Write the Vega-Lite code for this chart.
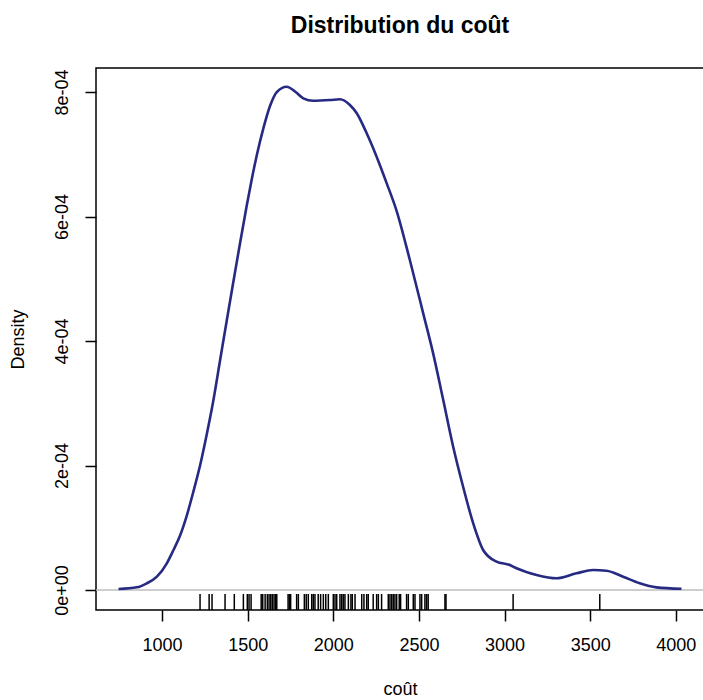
{
  "$schema": "https://vega.github.io/schema/vega-lite/v6.json",
  "autosize": "none",
  "padding": {"left": 96, "top": 68, "right": 0, "bottom": 90},
  "width": 608,
  "height": 542,
  "background": "white",
  "title": {
    "text": "Distribution du coût",
    "font": "Liberation Sans",
    "fontSize": 23,
    "fontWeight": "bold",
    "color": "black",
    "anchor": "middle",
    "frame": "group",
    "baseline": "alphabetic",
    "offset": 12
  },
  "config": {
    "view": {"stroke": "black", "strokeWidth": 1.5},
    "axis": {
      "grid": false,
      "domain": false,
      "labelFont": "Liberation Sans",
      "labelFontSize": 18,
      "labelColor": "black",
      "titleFont": "Liberation Sans",
      "titleFontSize": 18,
      "titleFontWeight": "normal",
      "titleColor": "black",
      "tickColor": "black",
      "tickWidth": 1.5,
      "tickSize": 11
    }
  },
  "datasets": {
    "curve": [
      {"cout": 746, "density": 0.0000016},
      {"cout": 853, "density": 0.0000043},
      {"cout": 911, "density": 0.0000108},
      {"cout": 970, "density": 0.0000214},
      {"cout": 1028, "density": 0.0000429},
      {"cout": 1067, "density": 0.0000643},
      {"cout": 1106, "density": 0.000088},
      {"cout": 1145, "density": 0.00012},
      {"cout": 1183, "density": 0.000158},
      {"cout": 1222, "density": 0.0002},
      {"cout": 1261, "density": 0.00025},
      {"cout": 1300, "density": 0.000305},
      {"cout": 1339, "density": 0.000369},
      {"cout": 1378, "density": 0.000433},
      {"cout": 1417, "density": 0.000496},
      {"cout": 1456, "density": 0.000558},
      {"cout": 1495, "density": 0.000618},
      {"cout": 1524, "density": 0.00066},
      {"cout": 1553, "density": 0.000698},
      {"cout": 1592, "density": 0.000742},
      {"cout": 1631, "density": 0.000778},
      {"cout": 1670, "density": 0.0008},
      {"cout": 1728, "density": 0.0008085},
      {"cout": 1780, "density": 0.0008},
      {"cout": 1825, "density": 0.0007899},
      {"cout": 1883, "density": 0.000786},
      {"cout": 1981, "density": 0.0007871},
      {"cout": 2039, "density": 0.0007883},
      {"cout": 2097, "density": 0.0007791},
      {"cout": 2137, "density": 0.0007658},
      {"cout": 2195, "density": 0.0007337},
      {"cout": 2253, "density": 0.0006961},
      {"cout": 2312, "density": 0.0006533},
      {"cout": 2370, "density": 0.0006088},
      {"cout": 2447, "density": 0.0005301},
      {"cout": 2525, "density": 0.0004445},
      {"cout": 2583, "density": 0.0003802},
      {"cout": 2642, "density": 0.0003052},
      {"cout": 2700, "density": 0.0002302},
      {"cout": 2758, "density": 0.0001659},
      {"cout": 2817, "density": 0.0001071},
      {"cout": 2875, "density": 0.0000643},
      {"cout": 2953, "density": 0.0000455},
      {"cout": 3031, "density": 0.0000402},
      {"cout": 3070, "density": 0.0000349},
      {"cout": 3187, "density": 0.0000241},
      {"cout": 3303, "density": 0.0000188},
      {"cout": 3420, "density": 0.0000268},
      {"cout": 3517, "density": 0.0000321},
      {"cout": 3595, "density": 0.000031},
      {"cout": 3692, "density": 0.0000214},
      {"cout": 3789, "density": 0.0000108},
      {"cout": 3887, "density": 0.0000043},
      {"cout": 4033, "density": 0.000002}
    ],
    "rug": [
      {"cout": 1222}, {"cout": 1275}, {"cout": 1292}, {"cout": 1368}, {"cout": 1422},
      {"cout": 1475}, {"cout": 1498}, {"cout": 1508}, {"cout": 1520}, {"cout": 1579},
      {"cout": 1588}, {"cout": 1602}, {"cout": 1615}, {"cout": 1625}, {"cout": 1635},
      {"cout": 1644}, {"cout": 1654}, {"cout": 1663}, {"cout": 1670}, {"cout": 1736},
      {"cout": 1744}, {"cout": 1751}, {"cout": 1786}, {"cout": 1796}, {"cout": 1831},
      {"cout": 1842}, {"cout": 1854}, {"cout": 1874}, {"cout": 1883}, {"cout": 1893},
      {"cout": 1912}, {"cout": 1926}, {"cout": 1942}, {"cout": 1956}, {"cout": 1971},
      {"cout": 2000}, {"cout": 2010}, {"cout": 2020}, {"cout": 2039}, {"cout": 2049},
      {"cout": 2058}, {"cout": 2068}, {"cout": 2088}, {"cout": 2103}, {"cout": 2111},
      {"cout": 2127}, {"cout": 2166}, {"cout": 2179}, {"cout": 2195}, {"cout": 2204},
      {"cout": 2233}, {"cout": 2253}, {"cout": 2263}, {"cout": 2282}, {"cout": 2321},
      {"cout": 2331}, {"cout": 2341}, {"cout": 2350}, {"cout": 2360}, {"cout": 2370},
      {"cout": 2385}, {"cout": 2393}, {"cout": 2428}, {"cout": 2438}, {"cout": 2467},
      {"cout": 2477}, {"cout": 2506}, {"cout": 2516}, {"cout": 2535}, {"cout": 2545},
      {"cout": 2554}, {"cout": 2652}, {"cout": 2658}, {"cout": 3050}, {"cout": 3556}
    ],
    "zero": [{"level": 0}]
  },
  "layer": [
    {
      "data": {"name": "zero"},
      "mark": {"type": "rule", "color": "#bebebe", "strokeWidth": 1.5},
      "encoding": {
        "y": {"field": "level", "type": "quantitative", "scale": {"domain": [-0.0000321, 0.0008386], "nice": false, "zero": false}}
      }
    },
    {
      "data": {"name": "rug"},
      "mark": {"type": "rule", "color": "black", "strokeWidth": 1.5},
      "encoding": {
        "x": {"field": "cout", "type": "quantitative"},
        "y": {"datum": -0.0000321},
        "y2": {"datum": -0.0000064}
      }
    },
    {
      "data": {"name": "curve"},
      "mark": {"type": "line", "color": "#272a82", "strokeWidth": 2.6, "interpolate": "monotone"},
      "encoding": {
        "x": {
          "field": "cout",
          "type": "quantitative",
          "scale": {"domain": [614.5, 4164.5], "nice": false, "zero": false},
          "axis": {"title": "coût", "format": "d", "values": [1000, 1500, 2000, 2500, 3000, 3500, 4000], "labelPadding": 15, "titlePadding": 26, "labelFlush": false}
        },
        "y": {
          "field": "density",
          "type": "quantitative",
          "axis": {
            "title": "Density",
            "values": [0, 0.0002, 0.0004, 0.0006, 0.0008],
            "labelExpr": "datum.value == 0 ? '0e+00' : toString(round(datum.value * 10000)) + 'e-04'",
            "labelAngle": -90,
            "labelAlign": "center",
            "labelBaseline": "bottom",
            "labelPadding": 14,
            "titlePadding": 26,
            "labelFlush": false
          }
        }
      }
    }
  ]
}
